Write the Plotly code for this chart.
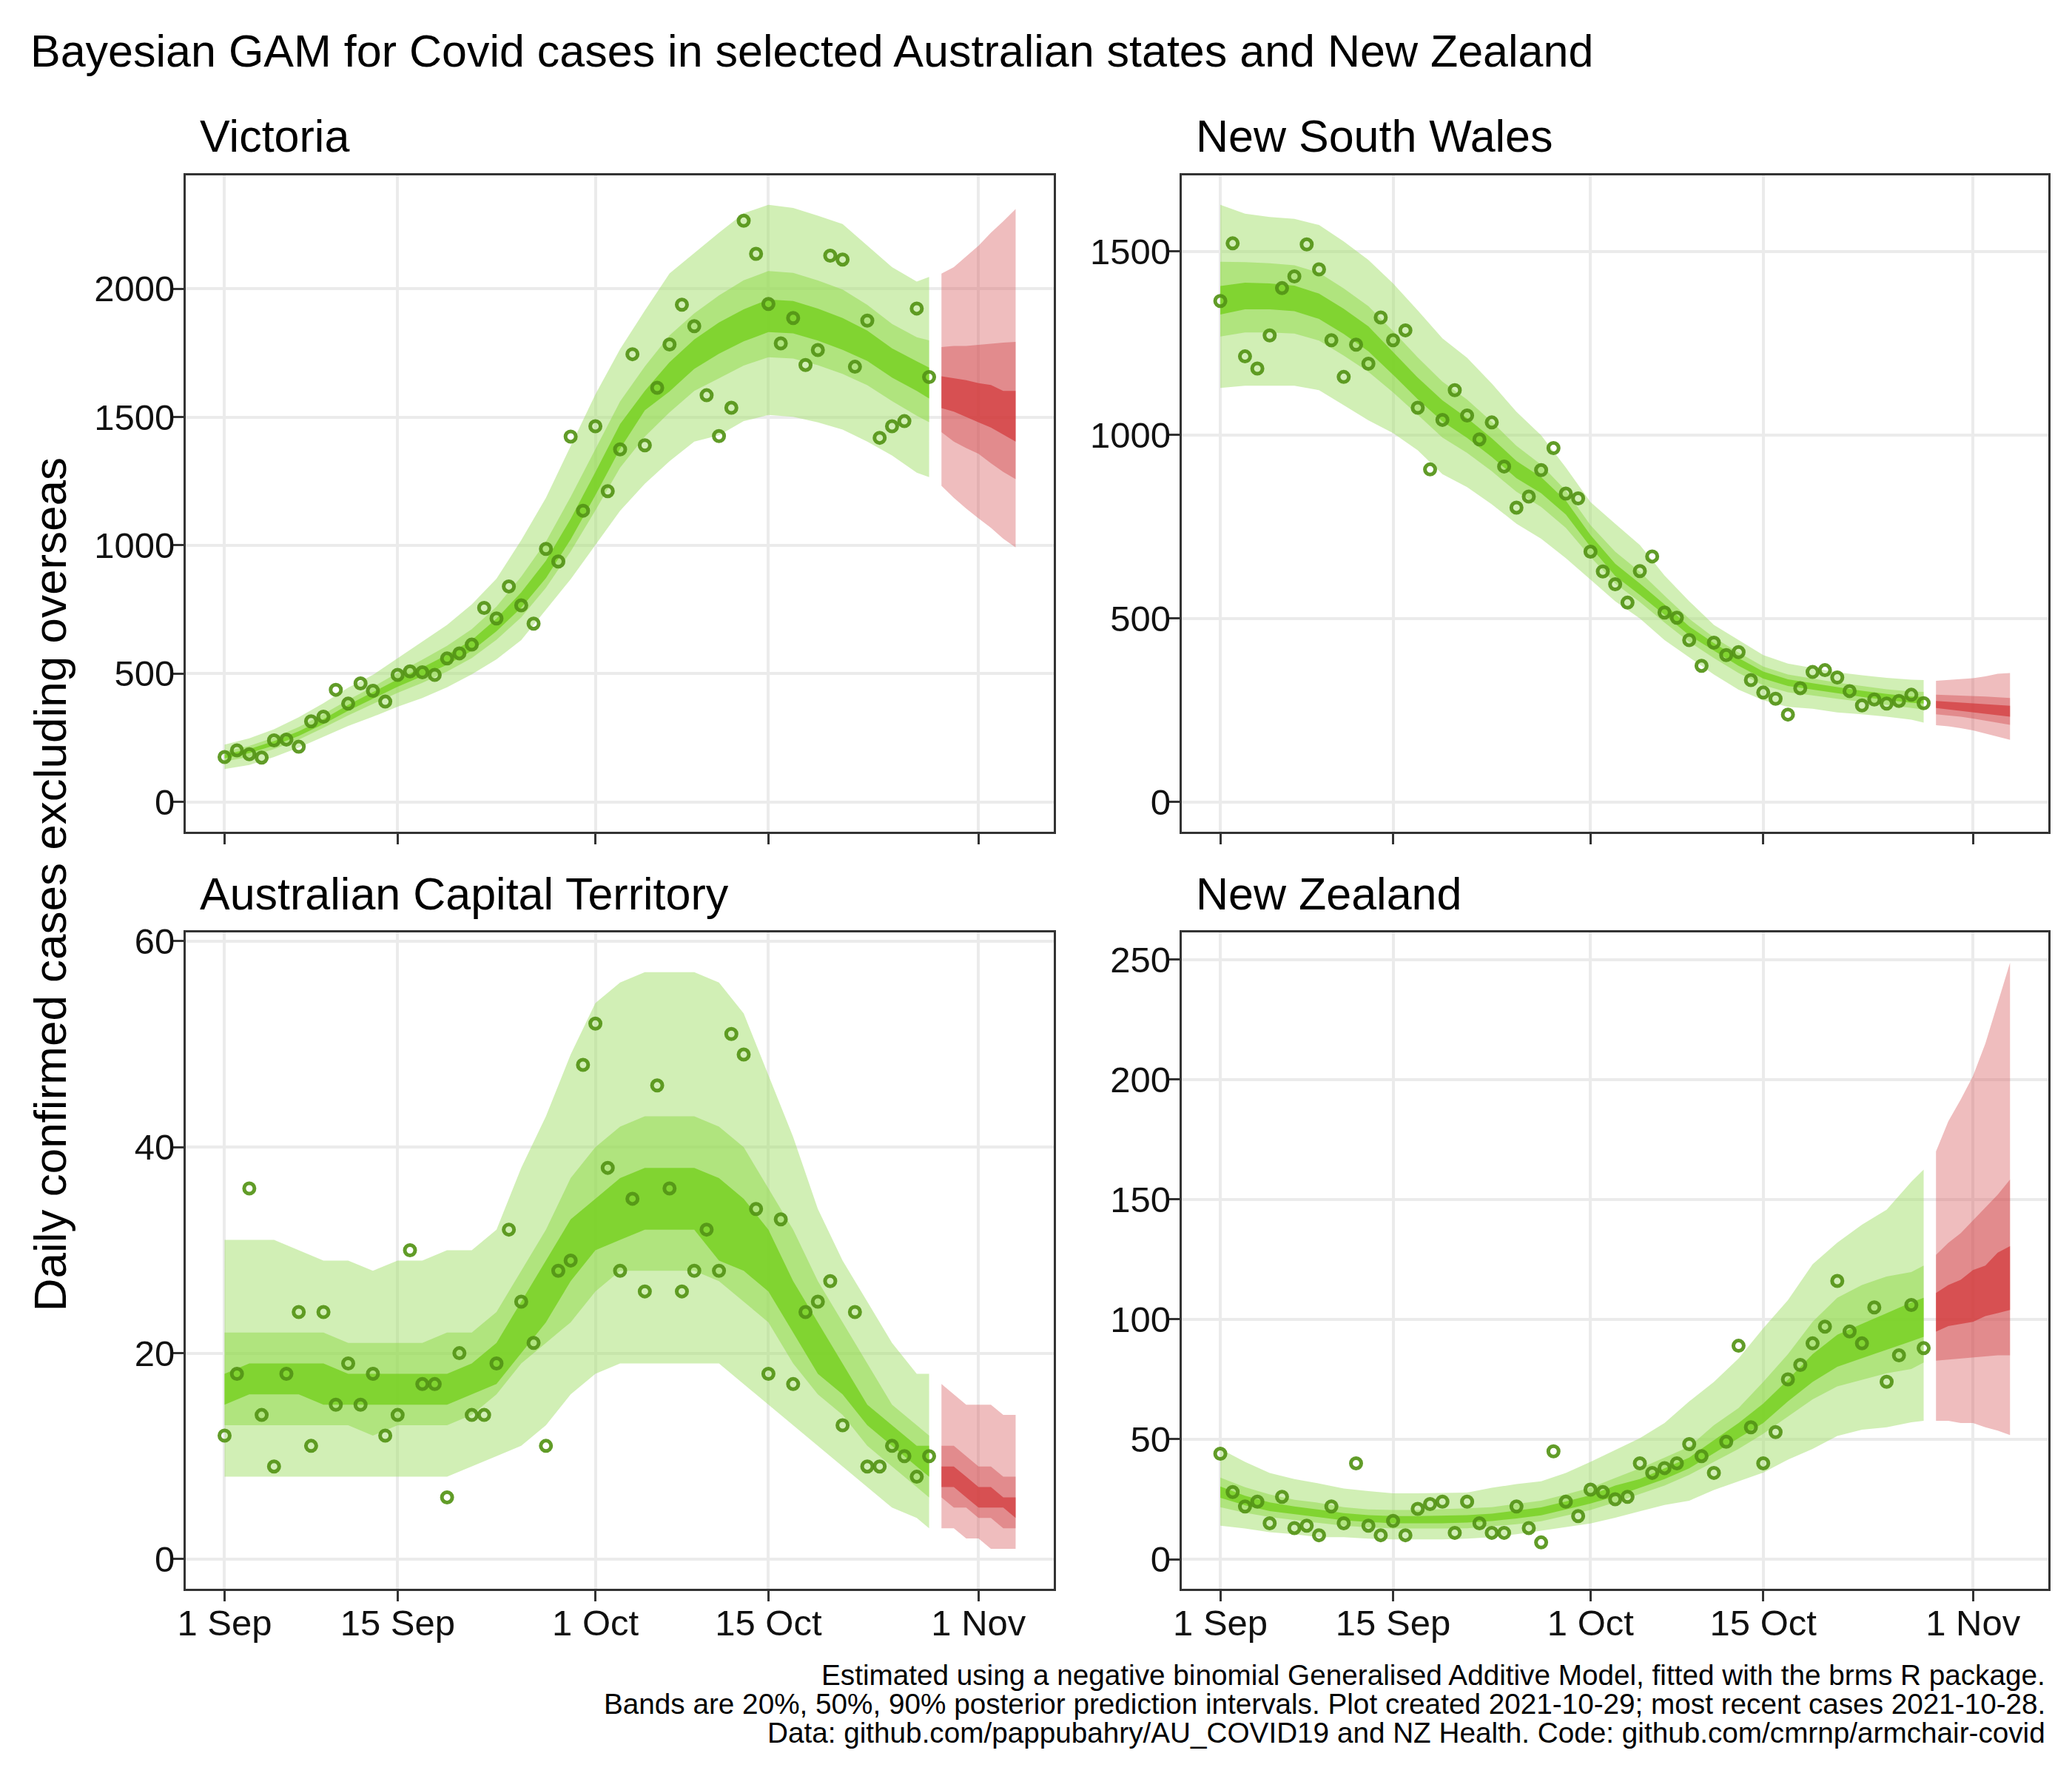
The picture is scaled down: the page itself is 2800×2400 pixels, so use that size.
import pandas as pd
import plotly.graph_objects as go

FONT = "Liberation Sans, Arial, Helvetica, sans-serif"
START = pd.Timestamp("2021-09-01")

# ---------------- x positions (days after 1 Sep 2021) ----------------
obs_day = list(range(58))                      # 1 Sep .. 28 Oct (observed cases)
band_day = [0, 2, 4, 6, 8, 10, 12, 14, 16, 18, 20, 22, 24, 26, 28, 30,
            32, 34, 36, 38, 40, 42, 44, 46, 48, 50, 52, 54, 56, 57]
fc_day = [58, 59, 60, 61, 62, 63, 64]          # 29 Oct .. 4 Nov (forecast)

tick_dates = ["2021-09-01", "2021-09-15", "2021-10-01", "2021-10-15", "2021-11-01"]
tick_labels = ["1 Sep", "15 Sep", "1 Oct", "15 Oct", "1 Nov"]

# ---------------- Victoria ----------------
vic_cases = [175, 201, 186, 173, 240, 243, 215, 314, 332, 437,
             383, 462, 433, 391, 495, 509, 505, 495, 559, 579,
             613, 756, 715, 840, 766, 695, 986, 937, 1424, 1135,
             1464, 1211, 1374, 1745, 1390, 1614, 1783, 1938, 1854, 1585,
             1426, 1536, 2265, 2136, 1941, 1787, 1886, 1703, 1761, 2129,
             2114, 1696, 1876, 1419, 1464, 1484, 1923, 1656]
vic_hi90 = [223, 248, 283, 330, 385, 445, 495, 560, 625, 690, 770, 870, 1020, 1185, 1387,
            1588, 1765, 1915, 2060, 2140, 2218, 2294, 2327, 2315, 2285, 2252, 2167, 2084, 2028, 2046]
vic_lo90 = [128, 144, 175, 212, 255, 296, 332, 371, 405, 447, 497, 556, 631, 749, 868,
            1001, 1135, 1240, 1328, 1404, 1429, 1484, 1508, 1501, 1479, 1451, 1404, 1350, 1283, 1266]
vic_hi50 = [196, 218, 251, 292, 342, 398, 448, 503, 554, 608, 673, 761, 878, 1014, 1189,
            1377, 1561, 1697, 1818, 1904, 1974, 2033, 2069, 2062, 2032, 1997, 1937, 1863, 1811, 1799]
vic_lo50 = [158, 176, 206, 243, 289, 337, 382, 425, 464, 508, 561, 632, 719, 835, 976,
            1136, 1303, 1424, 1518, 1602, 1651, 1701, 1733, 1728, 1702, 1668, 1624, 1562, 1505, 1480]
vic_hi20 = [185, 206, 237, 275, 323, 378, 428, 478, 524, 573, 631, 714, 817, 940, 1103,
            1285, 1473, 1602, 1714, 1802, 1869, 1920, 1958, 1952, 1923, 1886, 1837, 1768, 1717, 1693]
vic_lo20 = [170, 190, 220, 257, 303, 355, 403, 449, 490, 535, 589, 665, 757, 872, 1023,
            1195, 1376, 1526, 1600, 1688, 1747, 1795, 1831, 1826, 1798, 1762, 1719, 1654, 1602, 1572]
vic_fc_hi90 = [2059, 2084, 2126, 2168, 2218, 2263, 2311]
vic_fc_lo90 = [1232, 1185, 1143, 1105, 1068, 1026, 992]
vic_fc_hi50 = [1773, 1777, 1777, 1782, 1785, 1790, 1793]
vic_fc_lo50 = [1441, 1404, 1379, 1357, 1320, 1286, 1258]
vic_fc_hi20 = [1659, 1652, 1644, 1632, 1625, 1602, 1602]
vic_fc_lo20 = [1535, 1521, 1499, 1479, 1459, 1432, 1404]

# ---------------- New South Wales ----------------
nsw_cases = [1365, 1522, 1214, 1181, 1271, 1400, 1432, 1519, 1451, 1258,
             1158, 1246, 1194, 1320, 1258, 1285, 1074, 906, 1041, 1122,
             1053, 988, 1034, 914, 802, 832, 904, 964, 840, 827,
             682, 628, 593, 543, 629, 669, 516, 502, 441, 371,
             434, 400, 408, 332, 298, 281, 238, 310, 354, 359,
             339, 302, 263, 279, 268, 275, 292, 269]
nsw_hi90 = [1627, 1603, 1594, 1589, 1572, 1527, 1477, 1413, 1339, 1263, 1210, 1140, 1063, 999, 911,
            817, 758, 700, 617, 547, 482, 441, 400, 377, 365, 353, 345, 338, 333, 332]
nsw_lo90 = [1128, 1134, 1134, 1134, 1122, 1081, 1040, 1005, 958, 893, 858, 811, 758, 717, 664,
            606, 547, 500, 441, 394, 347, 306, 277, 259, 254, 244, 239, 232, 224, 216]
nsw_hi50 = [1472, 1471, 1468, 1462, 1442, 1399, 1351, 1283, 1211, 1145, 1096, 1036, 970, 919, 848,
            754, 682, 627, 562, 499, 448, 407, 369, 347, 336, 325, 316, 307, 301, 300]
nsw_lo50 = [1268, 1279, 1279, 1276, 1257, 1216, 1172, 1116, 1055, 993, 951, 901, 845, 804, 747,
            668, 595, 545, 489, 436, 392, 351, 318, 299, 290, 281, 272, 264, 256, 252]
nsw_hi20 = [1406, 1415, 1413, 1407, 1385, 1344, 1296, 1227, 1156, 1094, 1046, 991, 929, 885, 821,
            727, 649, 595, 538, 478, 433, 392, 355, 334, 323, 313, 303, 294, 287, 286]
nsw_lo20 = [1328, 1342, 1342, 1337, 1316, 1275, 1228, 1164, 1097, 1037, 992, 940, 882, 841, 783,
            695, 616, 564, 510, 454, 412, 371, 336, 316, 306, 296, 286, 278, 270, 268]
nsw_fc_hi90 = [330, 332, 334, 337, 342, 349, 351]
nsw_fc_lo90 = [209, 206, 201, 195, 186, 178, 169]
nsw_fc_hi50 = [292, 291, 290, 289, 287, 285, 283]
nsw_fc_lo50 = [239, 236, 232, 227, 222, 216, 210]
nsw_fc_hi20 = [275, 273, 271, 269, 267, 264, 262]
nsw_fc_lo20 = [256, 253, 249, 245, 241, 236, 232]

# ---------------- Australian Capital Territory ----------------
act_cases = [12, 18, 36, 14, 9, 18, 24, 11, 24, 15,
             19, 15, 18, 12, 14, 30, 17, 17, 6, 20,
             14, 14, 19, 32, 25, 21, 11, 28, 29, 48,
             52, 38, 28, 35, 26, 46, 36, 26, 28, 32,
             28, 51, 49, 34, 18, 33, 17, 24, 25, 27,
             13, 24, 9, 9, 11, 10, 8, 10]
act_hi90 = [31, 31, 31, 30, 29, 29, 28, 29, 29, 30, 30, 32, 38, 43, 49,
            54, 56, 57, 57, 57, 56, 53, 47, 41, 34, 29, 25, 21, 18, 18]
act_lo90 = [8, 8, 8, 8, 8, 8, 8, 8, 8, 8, 9, 10, 11, 13, 16,
            18, 19, 19, 19, 19, 19, 17, 15, 13, 11, 9, 7, 5, 4, 3]
act_hi50 = [22, 22, 22, 22, 22, 21, 21, 21, 21, 22, 22, 24, 28, 32, 37,
            40, 42, 43, 43, 43, 42, 40, 36, 32, 27, 23, 19, 15, 13, 12]
act_lo50 = [13, 13, 13, 13, 13, 13, 12, 13, 13, 13, 14, 16, 19, 21, 23,
            26, 28, 28, 28, 28, 27, 25, 23, 19, 16, 14, 11, 9, 7, 6]
act_hi20 = [18, 19, 19, 19, 19, 18, 18, 18, 18, 18, 19, 21, 25, 29, 33,
            35, 37, 38, 38, 38, 37, 35, 32, 27, 23, 19, 15, 13, 11, 11]
act_lo20 = [15, 16, 16, 16, 15, 15, 15, 15, 15, 15, 16, 17, 20, 23, 27,
            30, 31, 32, 32, 32, 29, 28, 26, 22, 18, 16, 13, 11, 9, 8]
act_fc_hi90 = [17, 16, 15, 15, 15, 14, 14]
act_fc_lo90 = [3, 3, 2, 2, 1, 1, 1]
act_fc_hi50 = [11, 11, 10, 9, 9, 8, 8]
act_fc_lo50 = [6, 5, 5, 4, 4, 3, 3]
act_fc_hi20 = [9, 9, 8, 7, 7, 6, 6]
act_fc_lo20 = [7, 7, 6, 5, 5, 5, 4]

# ---------------- New Zealand ----------------
nz_cases = [44, 28, 22, 24, 15, 26, 13, 14, 10, 22,
            15, 40, 14, 10, 16, 10, 21, 23, 24, 11,
            24, 15, 11, 11, 22, 13, 7, 45, 24, 18,
            29, 28, 25, 26, 40, 36, 38, 40, 48, 43,
            36, 49, 89, 55, 40, 53, 75, 81, 90, 97,
            116, 95, 90, 105, 74, 85, 106, 88]
nz_hi90 = [46, 40.6, 36, 33.4, 31.6, 29.5, 28.4, 27.5, 27.5, 27.6, 27.8, 29.8, 31.3, 32.5, 36,
           40.6, 45.5, 50.5, 56.8, 65.8, 73.9, 83.7, 96.3, 108, 123, 132, 139.5, 145.7, 157.4, 162.5]
nz_lo90 = [14, 12.8, 11.3, 10.4, 9.2, 9.2, 8.6, 8.3, 8.3, 8.3, 8.6, 9.2, 10.4, 11.9, 13.3,
           14.9, 17.3, 20, 22.6, 24.4, 28.9, 32.5, 36.1, 41.5, 46, 51.4, 54, 55, 57.1, 57.7]
nz_hi50 = [34, 30, 27, 24.8, 23.5, 21.7, 20.8, 20.5, 20.5, 20.8, 21.2, 21.7, 23, 24.4, 27,
           29.8, 33.9, 37.9, 42.4, 46.9, 55.9, 63, 73.9, 85.5, 99, 109, 114.3, 117.9, 119.7, 122.4]
nz_lo50 = [21.7, 19.4, 17.6, 16.4, 15.1, 14, 13.3, 12.8, 12.8, 12.8, 12.9, 13.7, 14.6, 15.8, 18.2,
           20.5, 23.7, 27.1, 30.7, 35.2, 40.6, 46, 52.3, 59.5, 66.7, 72.1, 74.8, 77.5, 79.3, 82]
nz_hi20 = [30.3, 26.5, 23.7, 22.0, 20.7, 19.2, 18.4, 18.0, 18.0, 18.1, 18.4, 19.0, 20.2, 21.6, 24.1,
           26.7, 30.7, 33.4, 37.9, 42.4, 49.6, 56.8, 64.9, 74.8, 85.5, 93.6, 98.1, 102.6, 107.1, 109]
nz_lo20 = [25.6, 22.5, 20.1, 18.8, 17.5, 16.2, 15.5, 15.0, 15.0, 15.0, 15.3, 15.9, 17.0, 18.3, 20.7,
           23.2, 26.2, 29.8, 33.4, 37.9, 44.2, 50.5, 56.8, 65.8, 73.9, 80.2, 83.7, 87.3, 90.9, 92.7]
nz_fc_hi90 = [170, 182.6, 191.6, 201.5, 215, 232, 248.7]
nz_fc_lo90 = [57.7, 57.7, 56.8, 56.8, 55, 53.6, 51.8]
nz_fc_hi50 = [126.9, 131.9, 135.9, 141.3, 146.6, 152, 158.3]
nz_fc_lo50 = [82.8, 83.4, 83.7, 84.1, 84.6, 85, 85]
nz_fc_hi20 = [111, 114.3, 116.5, 120.6, 122.4, 127.8, 130.5]
nz_fc_lo20 = [94.9, 97.2, 98.1, 99, 101.4, 102.6, 103.9]

# ---------------- styling ----------------
GREEN = ["rgba(163,223,107,0.5)", "rgba(143,217,71,0.5)", "rgba(110,205,17,0.7)"]
RED = ["rgba(215,90,92,0.4)", "rgba(207,64,68,0.4)", "rgba(208,41,43,0.6)"]
POINT = "rgba(84,148,22,0.92)"


def to_dates(days):
    return [START + pd.Timedelta(days=int(d)) for d in days]


panels = [
    dict(title="Victoria", ax="", cases=vic_cases,
         green=[(vic_lo90, vic_hi90), (vic_lo50, vic_hi50), (vic_lo20, vic_hi20)],
         red=[(vic_fc_lo90, vic_fc_hi90), (vic_fc_lo50, vic_fc_hi50), (vic_fc_lo20, vic_fc_hi20)],
         yrange=[-116.4, 2443], ytick=[0, 500, 1000, 1500, 2000],
         xdom=[241 / 2800, 1419 / 2800], ydom=[1 - 1116 / 2400, 1 - 223 / 2400], xlabels=False),
    dict(title="New South Wales", ax="2", cases=nsw_cases,
         green=[(nsw_lo90, nsw_hi90), (nsw_lo50, nsw_hi50), (nsw_lo20, nsw_hi20)],
         red=[(nsw_fc_lo90, nsw_fc_hi90), (nsw_fc_lo50, nsw_fc_hi50), (nsw_fc_lo20, nsw_fc_hi20)],
         yrange=[-81.4, 1708], ytick=[0, 500, 1000, 1500],
         xdom=[1592 / 2800, 2768 / 2800], ydom=[1 - 1116 / 2400, 1 - 223 / 2400], xlabels=False),
    dict(title="Australian Capital Territory", ax="3", cases=act_cases,
         green=[(act_lo90, act_hi90), (act_lo50, act_hi50), (act_lo20, act_hi20)],
         red=[(act_fc_lo90, act_fc_hi90), (act_fc_lo50, act_fc_hi50), (act_fc_lo20, act_fc_hi20)],
         yrange=[-2.85, 60.85], ytick=[0, 20, 40, 60],
         xdom=[241 / 2800, 1419 / 2800], ydom=[1 - 2145 / 2400, 1 - 1253 / 2400], xlabels=True),
    dict(title="New Zealand", ax="4", cases=nz_cases,
         green=[(nz_lo90, nz_hi90), (nz_lo50, nz_hi50), (nz_lo20, nz_hi20)],
         red=[(nz_fc_lo90, nz_fc_hi90), (nz_fc_lo50, nz_fc_hi50), (nz_fc_lo20, nz_fc_hi20)],
         yrange=[-12.2, 261.3], ytick=[0, 50, 100, 150, 200, 250],
         xdom=[1592 / 2800, 2768 / 2800], ydom=[1 - 2145 / 2400, 1 - 1253 / 2400], xlabels=True),
]

fig = go.Figure()
obs_x = to_dates(obs_day)
band_x = to_dates(band_day)
fc_x = to_dates(fc_day)

for p in panels:
    xa, ya = "x" + p["ax"], "y" + p["ax"]
    for (lo, hi), col in zip(p["green"], GREEN):
        fig.add_trace(go.Scatter(x=band_x + band_x[::-1], y=hi + lo[::-1], fill="toself",
                                 fillcolor=col, line=dict(width=0), mode="lines",
                                 hoverinfo="skip", showlegend=False, xaxis=xa, yaxis=ya))
    for (lo, hi), col in zip(p["red"], RED):
        fig.add_trace(go.Scatter(x=fc_x + fc_x[::-1], y=hi + lo[::-1], fill="toself",
                                 fillcolor=col, line=dict(width=0), mode="lines",
                                 hoverinfo="skip", showlegend=False, xaxis=xa, yaxis=ya))
    fig.add_trace(go.Scatter(x=obs_x, y=p["cases"], mode="markers",
                             marker=dict(symbol="circle-open", size=14, color=POINT,
                                         line=dict(width=5, color=POINT)),
                             showlegend=False, xaxis=xa, yaxis=ya))

axis_common = dict(showgrid=True, gridcolor="#ebebeb", gridwidth=4, zeroline=False,
                   showline=True, mirror=True, linecolor="#333333", linewidth=3,
                   ticks="outside", ticklen=14, tickwidth=3, tickcolor="#333333",
                   tickfont=dict(family=FONT, size=49, color="#111111"))

layout = dict(width=2800, height=2400, margin=dict(l=0, r=0, t=0, b=0),
              paper_bgcolor="white", plot_bgcolor="white", showlegend=False,
              font=dict(family=FONT, color="#111111"))

for p in panels:
    xk = "xaxis" + p["ax"]
    yk = "yaxis" + p["ax"]
    layout[xk] = dict(axis_common, domain=p["xdom"], anchor="y" + p["ax"], type="date",
                      range=["2021-08-28 20:40", "2021-11-07 02:40"],
                      tickmode="array", tickvals=tick_dates, ticktext=tick_labels,
                      showticklabels=p["xlabels"], ticklabelstandoff=-12)
    layout[yk] = dict(axis_common, domain=p["ydom"], anchor="x" + p["ax"],
                      range=p["yrange"], tickmode="array", tickvals=p["ytick"],
                      ticktext=[str(v) for v in p["ytick"]], ticklabelstandoff=-12)

fig.update_layout(**layout)

ann = []
ann.append(dict(text="Bayesian GAM for Covid cases in selected Australian states and New Zealand",
                x=28 / 2800, y=1 - 54 / 2400, xref="paper", yref="paper",
                xanchor="left", yanchor="middle", showarrow=False,
                font=dict(family=FONT, size=61, color="black")))
for p in panels:
    top_px = 2400 * (1 - p["ydom"][1])
    ann.append(dict(text=p["title"], x=p["xdom"][0] + 17 / 2800,
                    y=1 - (top_px - 53) / 2400, xref="paper", yref="paper",
                    xanchor="left", yanchor="middle", showarrow=False,
                    font=dict(family=FONT, size=61, color="black")))
ann.append(dict(text="Daily confirmed cases excluding overseas", textangle=-90,
                x=57 / 2800, y=1 - 1188 / 2400, xref="paper", yref="paper",
                xanchor="center", yanchor="middle", showarrow=False,
                font=dict(family=FONT, size=62, color="black")))
caption = ["Estimated using a negative binomial Generalised Additive Model, fitted with the brms R package.",
           "Bands are 20%, 50%, 90% posterior prediction intervals. Plot created 2021-10-29; most recent cases 2021-10-28.",
           "Data: github.com/pappubahry/AU_COVID19 and NZ Health. Code: github.com/cmrnp/armchair-covid"]
for i, line in enumerate(caption):
    ann.append(dict(text=line, x=2766 / 2800, y=1 - (2263 + 39 * i) / 2400,
                    xref="paper", yref="paper", xanchor="right", yanchor="middle",
                    showarrow=False, font=dict(family=FONT, size=38.7, color="black")))
fig.update_layout(annotations=ann)

fig.write_html("out.html")
